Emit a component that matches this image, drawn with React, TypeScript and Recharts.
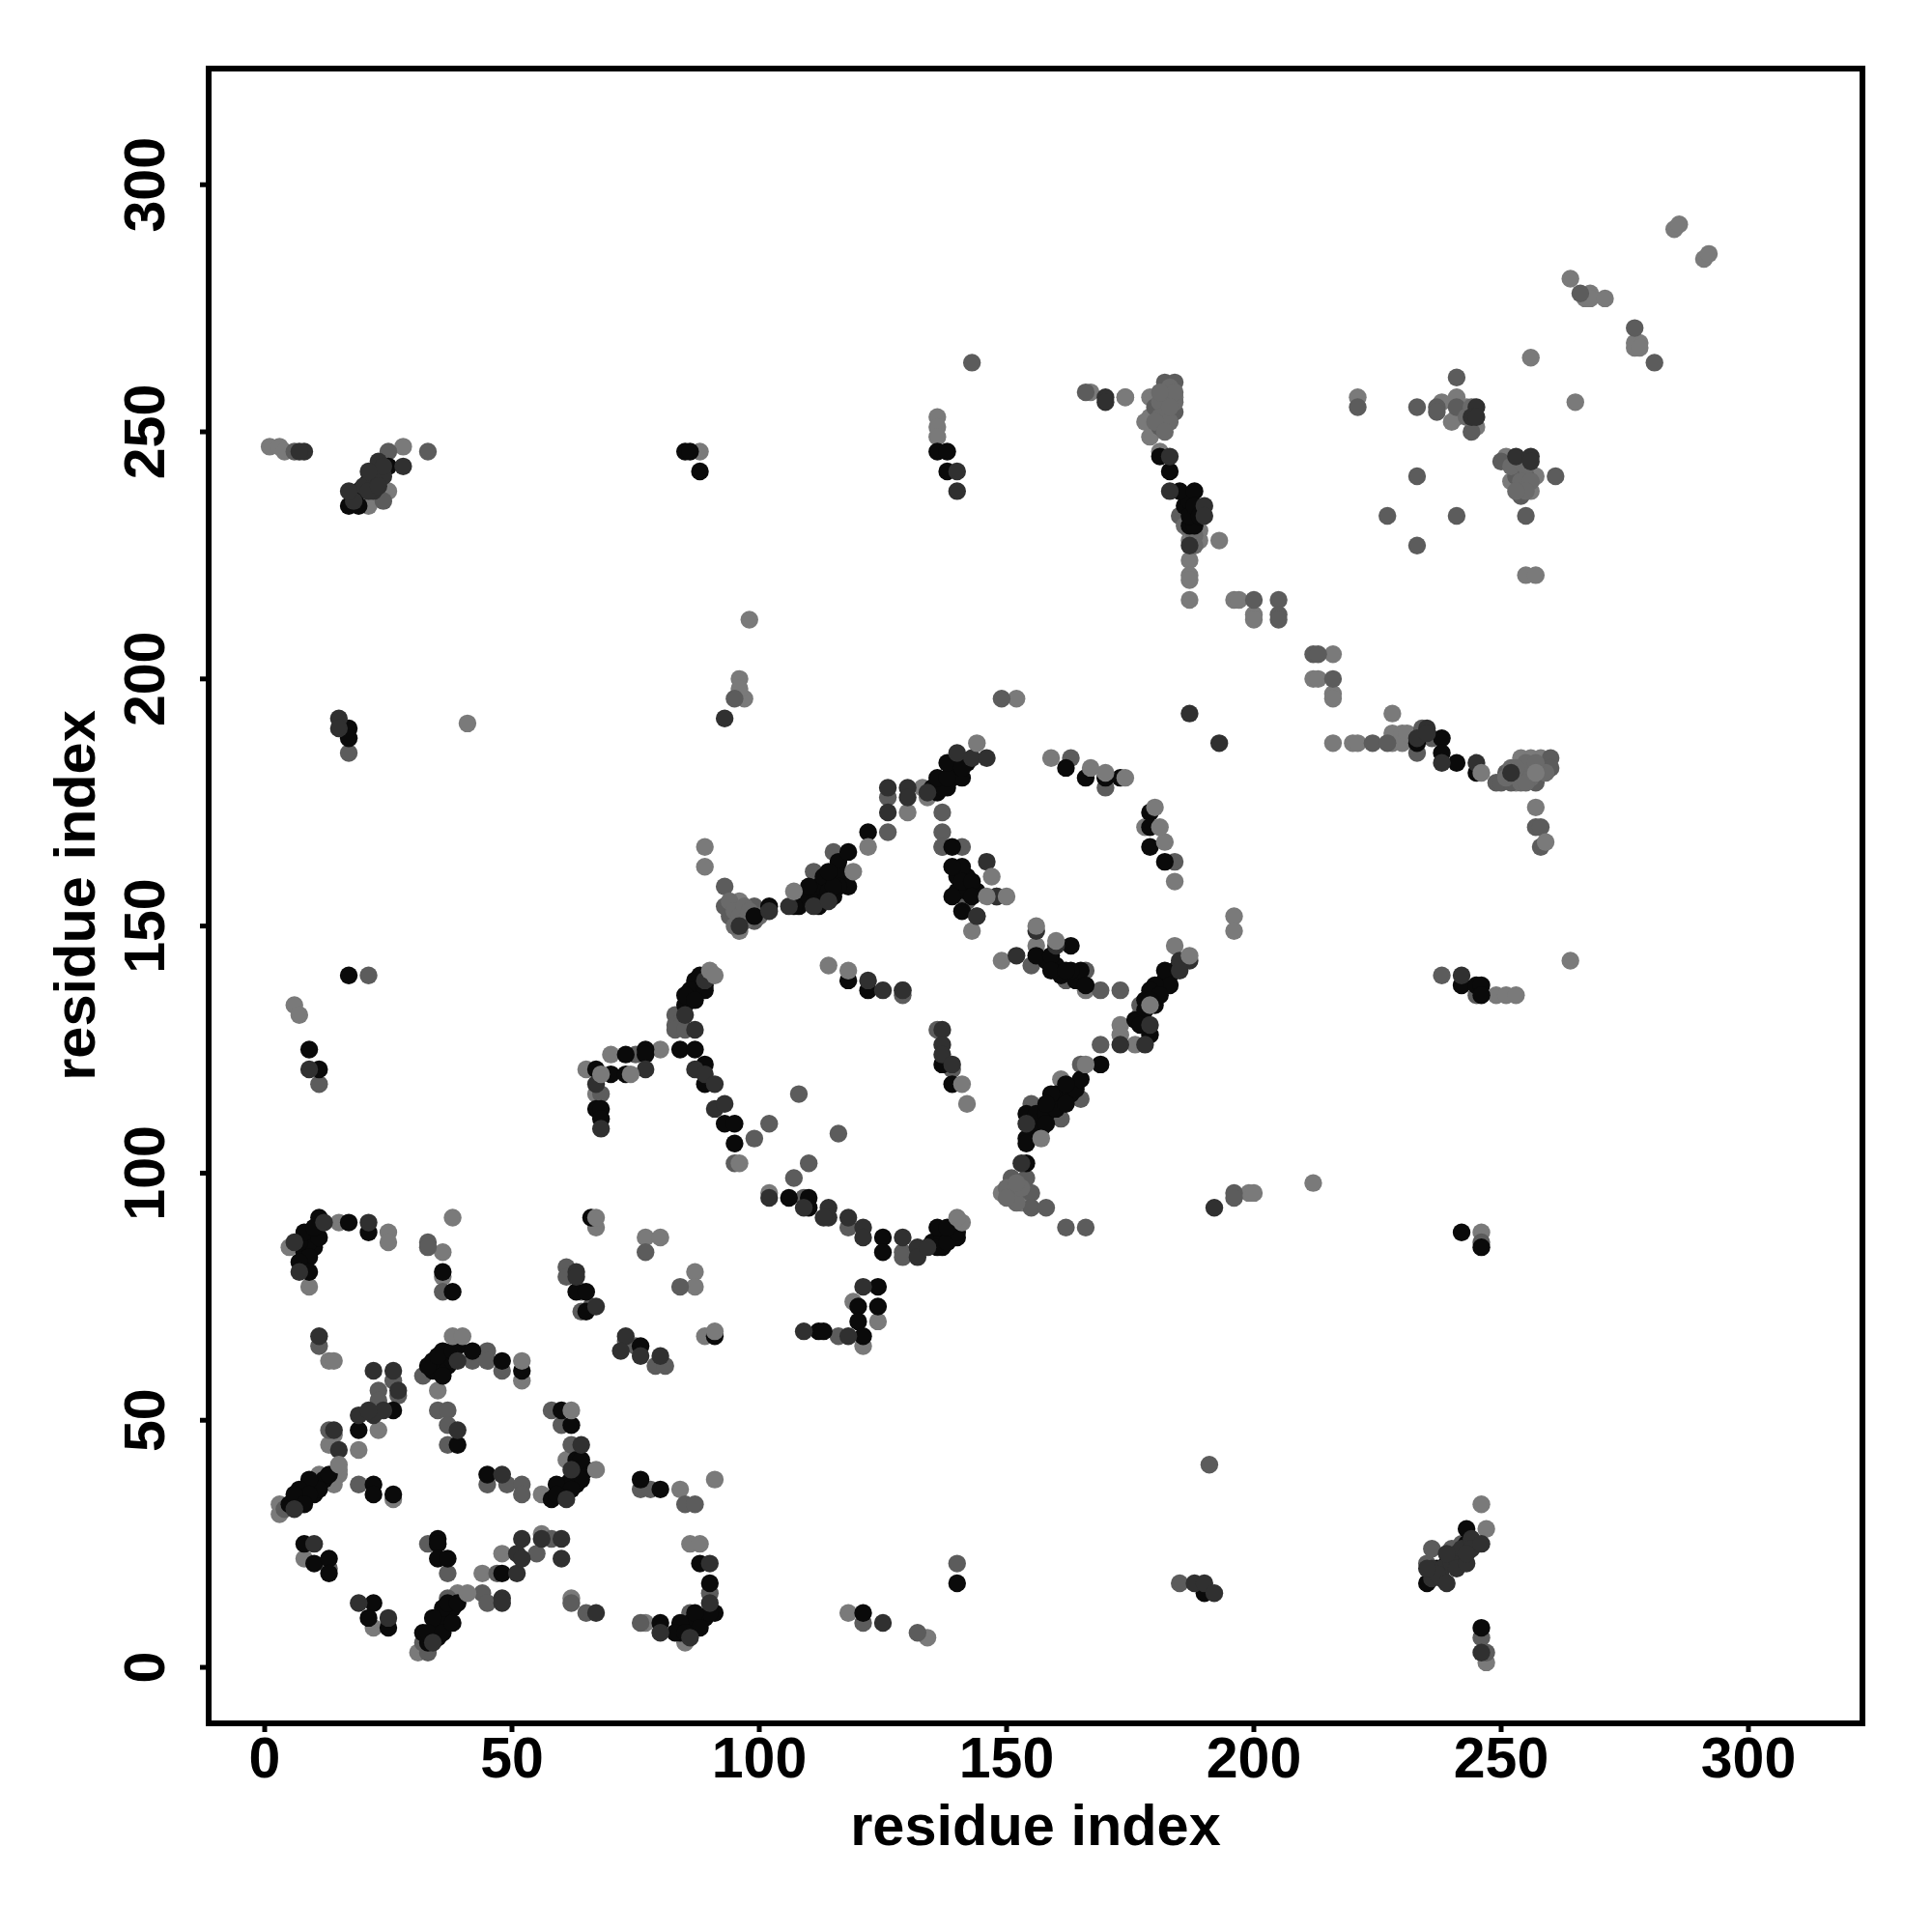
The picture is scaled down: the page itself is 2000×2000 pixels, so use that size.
import React from "react";
import { ScatterChart, Scatter, XAxis, YAxis, ReferenceArea } from "recharts";

type P = [number, number];
const tickValues = [0, 50, 100, 150, 200, 250, 300];

const midPoints: P[] = [
[33,86],[33,85],[36,76],[61,81],[61,79],[64,76],[64,72],[66,73],[73,66],[75,65],[79,61],[81,61],[11,65],[26,58],[23,56],[23,54],[27,55],[13,48],[10,37],[4,32],[19,37],[32,59],[42,62],[45,64],[45,62],[48,60],[35,52],[37,52],[37,49],[37,45],[58,52],[60,49],[62,45],[45,37],[49,37],[52,37],[52,35],[76,36],[78,36],[85,33],[87,33],[13,20],[33,25],[37,19],[47,19],[55,23],[58,26],[62,13],[65,11],[90,15],[86,11],[76,9],[33,3],[32,5],[37,14],[44,15],[45,13],
[77,84],[84,77],[129,136],[136,129],[139,121],[83,132],[83,130],[83,129],[85,129],[87,136],[75,124],[68,116],[102,110],[99,107],[95,102],[110,102],[108,116],[116,108],[107,99],[109,95],[118,89],[129,84],[129,83],[116,67],
[93,158],[93,154],[94,152],[99,154],[99,151],[111,161],[115,165],[126,169],[126,176],[137,173],[137,169],[137,166],[141,166],[142,155],[163,184],[170,178],[184,163],[155,142],[166,141],[162,139],[169,137],[173,137],[177,134],[177,132],[169,126],[165,122],[165,115],[155,114],[161,111],[151,99],[154,99],[151,98],[152,96],[155,96],[155,93],[158,93],[162,89],[166,89],[148,156],[144,152],
[196,96],[196,95],[246,86],[191,41],[140,21],[121,9],[132,7],[185,17],[235,21],[236,24],[240,24],[242,25],[246,6],[247,3],[238,140],[245,136],
[224,187],[227,187],[233,185],[234,190],[236,188],[249,179],[250,179],[251,181],[252,179],[254,182],[254,181],[256,182],[257,179],[258,182],[260,184],[260,182],[257,170],[258,170],[258,166],
[182,260],[184,260],[184,254],[180,255],[181,251],[185,233],[200,216],[205,216],[205,213],[205,212],[212,205],[213,205],[216,200],[221,255],[233,255],[237,255],[237,254],[241,261],[241,255],[244,250],[233,241],[227,233],[241,233],[255,233],[233,227],[250,244],[261,241],[255,241],[253,241],[254,237],
[6,246],[23,242],[24,236],[25,246],[33,246],[95,196],[143,264],[166,258],[277,271],[281,264],[266,278],[17,185],[21,140],[11,118],[149,196]
];

const denseMid: P[] = [
[252,182],[253,181],[255,180],[255,183],[256,180],[254,179],[255,179],[259,181],[257,183],[253,182],[251,180],
[181,256],[182,258],[183,259],[181,253],[183,252],[180,252],[182,250],[184,256],[184,258],[181,258],[183,255],
[188,229],[188,227],[186,231],
[150,97],[151,95],[152,94],[153,97],[152,98],[150,95],
[94,155],[95,153],[96,152],[97,154],[97,151],[98,153],[95,150],[100,152],
[252,243],[254,244],[255,243],[254,240],[256,240],[255,238],[253,238],
[243,253],[244,255]
];

const lightBack: P[] = [
[5,85],[9,77],[15,90],[25,88],[25,86],[36,79],[36,84],[38,91],[67,89],[77,87],[80,87],[87,80],[87,77],[89,67],[13,62],[14,62],[19,44],[23,48],[14,47],[13,45],[15,40],[15,39],[14,37],[11,39],[3,33],[3,31],[26,34],[35,56],[52,58],[61,42],[56,35],[84,36],[91,38],[8,22],[22,8],[44,19],[48,23],[56,27],[62,14],[86,25],[88,25],[77,9],[85,5],[31,3],[39,15],
[114,142],[129,137],[70,124],[65,121],[67,116],[80,125],[119,74],[124,70],[121,65],[102,96],[142,114],
[89,166],[89,162],[96,155],[96,149],[130,173],[133,178],[134,176],[137,166],[143,149],[159,184],[170,180],[178,170],[184,159],[156,146],[149,143],[166,137],[173,130],[173,128],[176,126],[161,119],[149,96],[153,94],[184,146],
[199,96],[200,96],[212,98],[246,88],[118,11],[134,6],[247,28],[246,33],[247,1],[249,136],[251,136],[253,136],[264,143],
[216,187],[220,187],[221,187],[228,193],[228,189],[228,187],[230,189],[230,187],[231,189],[254,184],[256,184],[258,184],[253,179],[257,174],
[174,257],[179,257],[184,257],[182,254],[179,253],[178,252],[179,249],[180,257],[181,246],[187,230],[189,230],[187,228],[189,228],[193,228],[187,224],[187,221],[187,220],[187,216],[196,216],[197,216],[200,213],[200,212],[216,205],[212,200],[213,200],[216,197],[216,196],[221,257],[238,256],[241,257],[241,253],[240,252],[243,255],[245,251],
[256,265],[265,256],[255,221],[257,221],[251,245],[257,241],[252,240],[256,238],
[1,247],[3,247],[4,246],[21,235],[25,238],[28,247],[88,246],[136,253],[136,251],[136,249],[167,258],[174,257],[41,191],[97,196],[96,200],[96,198],[98,212],[152,196],[6,134],[7,132],[196,152],[196,149],
[264,281],[268,278],[267,277],[268,277],[271,277],[277,268],[278,268],[277,267],[278,267],[285,291],[286,292],[291,285],[292,286]
];

const blackPoints: P[] = [
[7,86],[8,88],[9,83],[7,82],[11,91],[11,87],[10,89],[17,90],[21,88],[9,80],[36,80],[38,76],[66,91],[63,76],[65,76],[65,72],[76,65],[91,67],[26,52],[19,48],[9,38],[13,39],[7,36],[9,35],[6,35],[8,33],[22,37],[22,35],[26,35],[33,61],[35,63],[36,59],[38,64],[42,64],[48,62],[52,60],[39,45],[60,52],[62,49],[64,42],[64,38],[61,37],[59,37],[62,36],[59,35],[45,39],[76,38],[80,36],[8,25],[10,21],[13,22],[13,19],[22,13],[21,10],[25,8],[35,26],[35,25],[35,22],[37,22],[48,19],[88,21],[90,17],[91,11],[90,11],[87,11],[88,8],[80,9],[84,9],[83,7],[85,7],[32,7],[34,10],[33,7],[36,7],[38,9],[37,13],[39,13],
[118,139],[122,137],[137,122],[139,118],[88,140],[86,137],[89,137],[85,136],[87,135],[84,125],[87,125],[77,125],[77,124],[73,124],[67,121],[70,120],[73,120],[67,113],[68,113],[68,111],[89,122],[89,118],[93,110],[95,110],[95,106],[106,95],[110,95],[110,93],[125,87],[125,84],[136,85],[136,89],[138,86],[140,88],[138,89],[124,77],[124,73],[120,73],[120,70],[121,67],[112,68],[113,68],
[102,154],[99,152],[107,154],[110,158],[115,158],[114,161],[118,165],[122,169],[137,178],[136,180],[138,180],[138,183],[141,182],[139,166],[141,162],[139,162],[141,159],[143,159],[143,156],[162,182],[166,180],[170,180],[173,180],[179,173],[179,170],[179,166],[182,163],[156,144],[163,146],[159,144],[159,141],[163,141],[162,141],[166,138],[182,141],[183,138],[180,138],[179,137],[181,136],[179,135],[177,130],[179,128],[169,122],[165,119],[162,118],[162,114],[158,114],[158,110],[154,107],[154,106],[154,102],
[242,88],[246,85],[140,17],[121,11],[190,15],[235,17],[237,20],[239,21],[243,25],[243,28],[246,8],[242,138],[245,138],[246,138],[246,136],[17,140],
[233,187],[238,188],[238,185],[241,183],[245,181],
[181,245],[183,242],[185,238],[188,238],[187,233],[188,235],[189,233],
[17,235],[19,238],[19,235],[21,240],[25,243],[85,246],[86,246],[88,242],[136,246],[138,246],[138,242],[17,190],[17,188],[9,125],[11,121]
];

const denseBlack: P[] = [
[5,33],[7,34],[8,36],[10,37],[10,35],[12,38],[11,36],
[9,85],[8,84],[10,85],[8,87],[10,87],[9,86],
[33,5],[34,6],[35,8],[35,6],[37,10],[36,10],[38,12],[36,12],
[34,60],[35,61],[36,62],[37,63],[37,61],[38,62],[39,65],[36,64],[34,62],
[60,35],[61,36],[63,37],[62,38],[63,40],[65,40],[63,42],[64,40],[60,36],[58,34],
[84,8],[85,8],[86,8],[87,9],[88,10],[89,10],[86,9],[84,7],
[86,135],[87,138],[88,138],[85,134],[87,139],[86,136],[89,138],
[135,86],[137,87],[138,88],[139,87],[137,85],[139,89],[140,87],
[135,178],[136,178],[137,179],[139,180],[139,182],[140,181],[141,180],[142,183],[136,177],[138,178],
[108,154],[112,156],[112,158],[113,160],[116,161],[116,163],[117,160],[114,157],[110,156],[118,158],[112,154],[115,156],[116,158],
[154,112],[155,110],[156,112],[158,112],[159,114],[160,116],[160,113],[163,116],[156,108],[155,108],[157,109],[164,117],[159,116],
[176,131],[178,135],[180,136],[181,138],[182,139],[184,141],[183,140],[185,142],[178,133],[180,134],
[140,160],[140,157],[142,157],[142,160],[144,157],[141,153],[139,156],
[158,143],[160,142],[161,140],[164,139],[165,141],
[186,235],[187,236],[188,233],[187,231],[188,231]
];

const darkPoints: P[] = [
[6,86],[12,90],[21,90],[7,80],[63,80],[63,79],[67,73],[73,67],[72,64],[76,63],[80,63],[11,67],[22,60],[26,60],[27,56],[22,51],[24,52],[19,51],[21,52],[14,48],[15,44],[6,32],[39,62],[39,48],[64,45],[62,40],[61,34],[48,39],[10,25],[19,13],[25,10],[51,19],[52,26],[51,23],[52,22],[56,26],[60,26],[60,22],[67,11],[90,21],[90,13],[80,7],[86,6],[34,5],[48,14],[48,13],
[122,139],[125,137],[129,137],[137,129],[137,126],[137,124],[139,122],[85,132],[87,129],[89,139],[77,121],[67,118],[68,109],[87,121],[89,120],[91,118],[91,113],[93,114],[102,95],[109,93],[114,93],[114,91],[113,91],[118,91],[121,89],[121,87],[129,87],[132,85],[132,83],[134,85],[121,77],[118,67],[109,68],
[96,150],[102,153],[106,154],[111,154],[114,155],[126,173],[126,178],[130,178],[130,176],[134,177],[140,185],[143,184],[146,184],[146,163],[152,144],[156,149],[160,146],[185,143],[187,143],[185,141],[179,130],[173,126],[178,126],[154,110],[153,102],[144,152],[148,156],
[192,93],[125,9],[188,17],[190,17],[192,15],[235,20],[239,17],[239,23],[243,21],[243,23],[246,25],[246,3],[242,140],
[233,188],[235,190],[235,189],[238,183],[245,183],[252,181],
[183,245],[183,238],[190,235],[190,233],[187,227],[187,193],[193,187],[245,255],[244,253],[245,253],[253,245],[256,245],[256,244],
[8,246],[7,246],[17,238],[21,238],[21,242],[23,239],[28,243],[140,242],[140,238],[170,257],[170,256],[15,192],[15,190],[93,192],[9,121]
];

const denseDark: P[] = [
[236,18],[236,20],[238,18],[238,20],[240,21],[241,22],[241,23],[242,24],[244,26],[244,24],[241,20],[237,19],
[22,241],[23,244],[24,241],[20,239],[22,238],[24,243],[18,236]
];

const lightTop: P[] = [
[144,187],[141,90],[140,91],[90,141],[91,140],[187,144],[150,156],[147,160],[146,156],[174,180],[170,181],[167,182],[182,167],[181,170],[180,174],[246,181],[141,118],[119,161],[122,166],[107,157],[118,141],[96,102],[156,150],[160,147],[68,120],[74,120],[62,52],[67,40],[52,62],[91,68],[67,91],[41,15],[157,107],[166,122],[179,134],[38,67],[40,67],[15,41],[259,167],[257,181]
];

const shadeSeries: { pts: P[]; color: string }[] = [
  { pts: lightBack, color: "#7a7a7a" },
  { pts: midPoints, color: "#5c5c5c" },
  { pts: denseMid, color: "#6a6a6a" },
  { pts: denseBlack, color: "#0a0a0a" },
  { pts: blackPoints, color: "#0a0a0a" },
  { pts: denseDark, color: "#303030" },
  { pts: darkPoints, color: "#303030" },
  { pts: lightTop, color: "#7a7a7a" },
];

const FONT = "'Liberation Sans', Arial, sans-serif";
const xMin = -11.33, xMax = 323.05, yMin = -11.33, yMax = 323.5;

const XTick = (p: any) => (
  <text x={p.x} y={1840} textAnchor="middle" fontFamily={FONT} fontWeight="bold" fontSize={59} fill="#000">
    {p.payload.value}
  </text>
);
const YTick = (p: any) => (
  <text
    x={0}
    y={0}
    transform={`translate(170 ${p.y}) rotate(-90)`}
    textAnchor="middle"
    fontFamily={FONT}
    fontWeight="bold"
    fontSize={59}
    fill="#000"
  >
    {p.payload.value}
  </text>
);
const XTitle = () => (
  <text x={1072} y={1910} textAnchor="middle" fontFamily={FONT} fontWeight="bold" fontSize={59.5} fill="#000">
    residue index
  </text>
);
const YTitle = () => (
  <text
    transform="translate(98 927) rotate(-90)"
    textAnchor="middle"
    fontFamily={FONT}
    fontWeight="bold"
    fontSize={59.5}
    fill="#000"
  >
    residue index
  </text>
);

const Dot = (p: any) => <circle cx={p.cx} cy={p.cy} r={9.2} fill={p.fill} />;

export default function App() {
  return (
    <div style={{ position: "absolute", left: 0, top: 0, width: 2000, height: 2000, background: "#fff" }}>
      <ScatterChart width={2000} height={2000} margin={{ left: 116, top: 71, right: 72, bottom: 116 }}>
        <XAxis
          type="number"
          dataKey="x"
          domain={[xMin, xMax]}
          allowDataOverflow
          ticks={tickValues}
          interval={0}
          height={100}
          axisLine={false}
          tickSize={9}
          tickLine={{ stroke: "#000", strokeWidth: 5 }}
          tick={<XTick />}
          label={<XTitle />}
        />
        <YAxis
          type="number"
          dataKey="y"
          domain={[yMin, yMax]}
          allowDataOverflow
          ticks={tickValues}
          interval={0}
          width={100}
          axisLine={false}
          tickSize={9}
          tickLine={{ stroke: "#000", strokeWidth: 5 }}
          tick={<YTick />}
          label={<YTitle />}
        />
        {shadeSeries.map((s, i) => (
          <Scatter
            key={i}
            data={s.pts.map(([x, y]) => ({ x, y }))}
            fill={s.color}
            shape={<Dot />}
            isAnimationActive={false}
          />
        ))}
        <ReferenceArea x1={xMin} x2={xMax} y1={yMin} y2={yMax} fill="none" stroke="#000" strokeWidth={6} />
      </ScatterChart>
    </div>
  );
}
